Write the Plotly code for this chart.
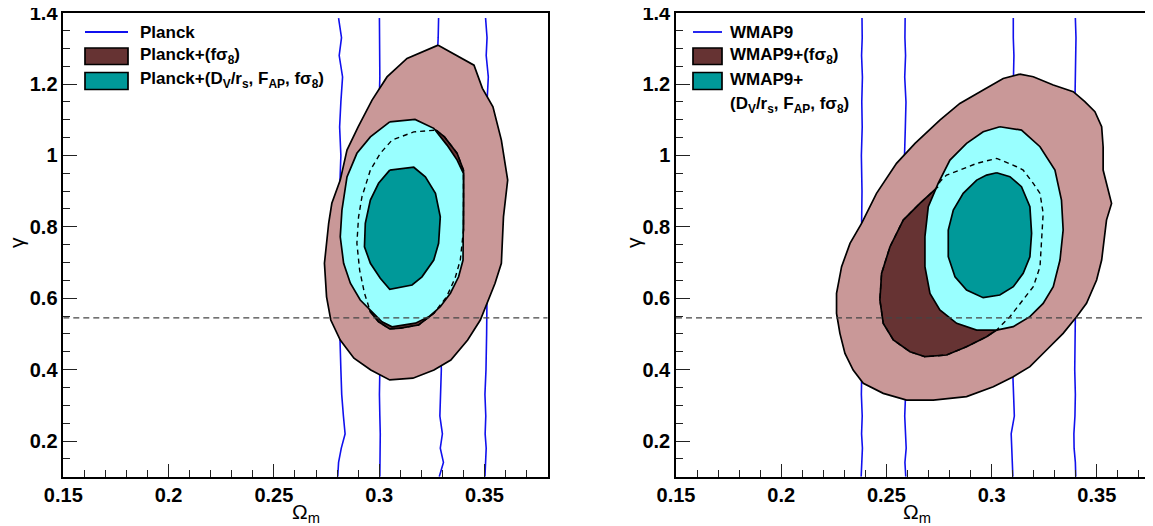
import plotly.graph_objects as go
from plotly.subplots import make_subplots

# gamma vs Omega_m contours

# ---- left panel: Planck ----
planck_fs8_2s_x = [0.328, 0.345, 0.349, 0.354, 0.358, 0.361, 0.359, 0.358, 0.355, 0.351, 0.348, 0.342,
                   0.334, 0.326, 0.316, 0.305, 0.296, 0.288, 0.2815, 0.277, 0.275, 0.274, 0.276,
                   0.2775, 0.2815, 0.2847, 0.290, 0.2966, 0.3037, 0.3132, 0.328]
planck_fs8_2s_y = [1.309, 1.253, 1.188, 1.136, 1.043, 0.931, 0.828, 0.698, 0.642, 0.586, 0.539, 0.483,
                   0.427, 0.399, 0.376, 0.371, 0.399, 0.432, 0.483, 0.539, 0.604, 0.698, 0.810,
                   0.866, 0.931, 1.015, 1.080, 1.155, 1.220, 1.272, 1.309]

planck_fs8_1s_x = [0.327, 0.331, 0.337, 0.340, 0.340, 0.340, 0.3385, 0.336, 0.332, 0.326, 0.3187, 0.310,
                   0.305, 0.2997, 0.2958, 0.293, 0.2907, 0.2894, 0.2902, 0.2918, 0.2958, 0.3005,
                   0.3061, 0.3164, 0.327]
planck_fs8_1s_y = [1.071, 1.052, 1.006, 0.959, 0.884, 0.791, 0.707, 0.656, 0.604, 0.558, 0.525, 0.516,
                   0.514, 0.534, 0.562, 0.614, 0.679, 0.754, 0.828, 0.884, 0.959, 1.006,
                   1.043, 1.066, 1.071]

planck_all_2s_x = [0.305, 0.317, 0.3259, 0.3322, 0.337, 0.340, 0.340, 0.340, 0.3398, 0.3377, 0.3338,
                   0.329, 0.3235, 0.3172, 0.3061, 0.3013, 0.2966, 0.291, 0.2863, 0.2831, 0.2815,
                   0.2823, 0.2847, 0.2894, 0.2958, 0.305]
planck_all_2s_y = [1.094, 1.101, 1.076, 1.029, 0.987, 0.950, 0.884, 0.791, 0.707, 0.660, 0.614,
                   0.576, 0.548, 0.530, 0.520, 0.534, 0.562, 0.595, 0.642, 0.698, 0.772,
                   0.847, 0.940, 1.006, 1.052, 1.094]

planck_all_1s_x = [0.305, 0.3164, 0.3219, 0.3267, 0.329, 0.3282, 0.3259, 0.3203, 0.3156, 0.305,
                   0.3005, 0.2958, 0.293, 0.2934, 0.2958, 0.2997, 0.305]
planck_all_1s_y = [0.959, 0.967, 0.940, 0.894, 0.828, 0.754, 0.707, 0.660, 0.637, 0.625,
                   0.656, 0.698, 0.744, 0.810, 0.875, 0.922, 0.959]

# CMB-only bands (vertical lines), sampled at these gamma values
cmb_y = [0.10, 0.14, 0.18, 0.22, 0.27, 0.33, 0.40, 0.50, 0.60, 0.70, 0.80, 0.90, 1.00, 1.08,
         1.15, 1.22, 1.28, 1.33, 1.385]
planck_lines_x = [
    [0.2803, 0.2807, 0.2820, 0.2838, 0.2830, 0.2822, 0.2818, 0.2812, 0.2808, 0.2806, 0.2808, 0.2812,
     0.2818, 0.2812, 0.2818, 0.2826, 0.2810, 0.2821, 0.2807],
    [0.3003, 0.3004, 0.3002, 0.3005, 0.3003, 0.3001, 0.3003, 0.3004, 0.3002, 0.3003, 0.3001, 0.3003,
     0.3005, 0.3002, 0.3000, 0.3003, 0.3001, 0.3000, 0.3001],
    [0.3285, 0.3305, 0.3290, 0.3300, 0.3288, 0.3292, 0.3295, 0.3290, 0.3292, 0.3289, 0.3291, 0.3288,
     0.3285, 0.3282, 0.3280, 0.3278, 0.3276, 0.3280, 0.3282],
    [0.3502, 0.3505, 0.3508, 0.3503, 0.3506, 0.3502, 0.3507, 0.3510, 0.3512, 0.3514, 0.3515, 0.3513,
     0.3511, 0.3508, 0.3512, 0.3518, 0.3508, 0.3512, 0.3505],
]

# ---- right panel: WMAP9 ----
wmap_fs8_2s_x = [0.3134, 0.3198, 0.3293, 0.3388, 0.3443, 0.3491, 0.3523, 0.353, 0.353, 0.357, 0.3546,
                 0.353, 0.3523, 0.3499, 0.3451, 0.3404, 0.334, 0.3261, 0.3182, 0.3103, 0.3008,
                 0.2881, 0.2723, 0.2596, 0.2485, 0.239, 0.2342, 0.2303, 0.2279, 0.2263, 0.2263,
                 0.2287, 0.2327, 0.2382, 0.2453, 0.2548, 0.2636, 0.2754, 0.2849, 0.296, 0.3055, 0.3134]
wmap_fs8_2s_y = [1.228, 1.2205, 1.1972, 1.1785, 1.1505, 1.1225, 1.0805, 1.0244, 0.959, 0.8657, 0.819,
                 0.7443, 0.707, 0.651, 0.5856, 0.5483, 0.5016, 0.455, 0.4082, 0.3802, 0.3522,
                 0.3242, 0.3148, 0.3148, 0.3335, 0.3615, 0.3989, 0.4455, 0.5016, 0.5576, 0.6136,
                 0.6883, 0.7537, 0.8097, 0.8937, 0.9778, 1.0338, 1.0991, 1.1458, 1.1832, 1.2158, 1.228]

wmap_fs8_1s_x = [0.2746, 0.2659, 0.258, 0.2517, 0.2477, 0.2469, 0.2485, 0.2533, 0.2612, 0.2683, 0.2786,
                 0.2881, 0.2976, 0.3024, 0.3087, 0.315, 0.3198, 0.323, 0.3237, 0.3245, 0.323,
                 0.3198, 0.315, 0.3119, 0.3024, 0.2929, 0.2849, 0.2786, 0.2754, 0.2746]
wmap_fs8_1s_y = [0.9124, 0.8657, 0.819, 0.7443, 0.6696, 0.5949, 0.5296, 0.4829, 0.4502, 0.4362, 0.4409,
                 0.4642, 0.4922, 0.5109, 0.5483, 0.5949, 0.6323, 0.6883, 0.763, 0.8377, 0.8937,
                 0.9217, 0.959, 0.9684, 0.9918, 0.9778, 0.959, 0.945, 0.9264, 0.9124]

wmap_all_2s_x = [0.3039, 0.3142, 0.323, 0.3301, 0.3332, 0.334, 0.3325, 0.3293, 0.3245, 0.3182, 0.3103,
                 0.3024, 0.2929, 0.2834, 0.2754, 0.2707, 0.2683, 0.2683, 0.2699, 0.2746, 0.2802,
                 0.2881, 0.296, 0.3039]
wmap_all_2s_y = [1.0805, 1.0711, 1.0244, 0.959, 0.875, 0.791, 0.707, 0.6323, 0.5856, 0.5483, 0.5203,
                 0.5109, 0.5109, 0.5296, 0.5669, 0.6136, 0.6883, 0.7723, 0.8564, 0.9217, 0.9871,
                 1.0338, 1.0665, 1.0805]

wmap_all_1s_x = [0.3024, 0.3087, 0.3142, 0.3182, 0.319, 0.3182, 0.315, 0.3103, 0.3039, 0.296, 0.2881,
                 0.2826, 0.2794, 0.2794, 0.2818, 0.2865, 0.2929, 0.2976, 0.3024]
wmap_all_1s_y = [0.9516, 0.9404, 0.9124, 0.8564, 0.7817, 0.7163, 0.6696, 0.6323, 0.609, 0.6015, 0.6229,
                 0.6603, 0.7163, 0.791, 0.847, 0.8937, 0.931, 0.945, 0.9516]

wmap_lines_x = [
    [0.2380, 0.2383, 0.2386, 0.2382, 0.2385, 0.2381, 0.2384, 0.2386, 0.2383, 0.2385, 0.2382, 0.2384,
     0.2381, 0.2385, 0.2383, 0.2386, 0.2382, 0.2385, 0.2384],
    [0.2592, 0.2588, 0.2594, 0.2590, 0.2587, 0.2591, 0.2589, 0.2593, 0.2590, 0.2588, 0.2592, 0.2589,
     0.2586, 0.2590, 0.2593, 0.2587, 0.2591, 0.2588, 0.2589],
    [0.3101, 0.3099, 0.3094, 0.3093, 0.3108, 0.3104, 0.3100, 0.3102, 0.3099, 0.3101, 0.3103, 0.3100,
     0.3102, 0.3099, 0.3101, 0.3103, 0.3106, 0.3103, 0.3103],
    [0.3400, 0.3398, 0.3392, 0.3391, 0.3396, 0.3398, 0.3395, 0.3397, 0.3399, 0.3396, 0.3398, 0.3395,
     0.3397, 0.3399, 0.3396, 0.3398, 0.3400, 0.3401, 0.3398],
]

gamma_gr = 0.545   # GR value, dashed line

ROSY = "#c99898"
BROWN = "#663333"
CYAN = "#99ffff"
TEAL = "#009999"
BLUE = "#1010ee"

# the page puts the figure 8px in from the top-left corner, so the figure is made that much smaller
OFF = 8
W, H = 1153 - OFF, 526 - OFF


def px(x):
    return (x - OFF) / W


def py(y):
    return 1 - (y - OFF) / H


fig = make_subplots(rows=1, cols=2)


def add_panel(col, lines_x, s2x, s2y, s1x, s1y, a2x, a2y, a1x, a1y, x_end):
    for lx in lines_x:
        fig.add_trace(go.Scatter(x=lx, y=cmb_y, mode="lines", line=dict(color=BLUE, width=1.6),
                                 hoverinfo="skip", showlegend=False), row=1, col=col)
    for xs, ys, c in [(s2x, s2y, ROSY), (s1x, s1y, BROWN), (a2x, a2y, CYAN), (a1x, a1y, TEAL)]:
        fig.add_trace(go.Scatter(x=xs, y=ys, mode="lines", fill="toself", fillcolor=c,
                                 line=dict(color="black", width=1.7),
                                 hoverinfo="skip", showlegend=False), row=1, col=col)
    # 1 sigma of +fs8 seen through the combined contours
    fig.add_trace(go.Scatter(x=s1x, y=s1y, mode="lines", line=dict(color="black", width=1.4, dash="5px,4px"),
                             hoverinfo="skip", showlegend=False), row=1, col=col)
    fig.add_trace(go.Scatter(x=[0.15, x_end], y=[gamma_gr, gamma_gr], mode="lines",
                             line=dict(color="#444444", width=1.2, dash="6px,4px"),
                             hoverinfo="skip", showlegend=False), row=1, col=col)


add_panel(1, planck_lines_x, planck_fs8_2s_x, planck_fs8_2s_y, planck_fs8_1s_x, planck_fs8_1s_y,
          planck_all_2s_x, planck_all_2s_y, planck_all_1s_x, planck_all_1s_y, 0.38)
add_panel(2, wmap_lines_x, wmap_fs8_2s_x, wmap_fs8_2s_y, wmap_fs8_1s_x, wmap_fs8_1s_y,
          wmap_all_2s_x, wmap_all_2s_y, wmap_all_1s_x, wmap_all_1s_y, 0.3767)

tickfont = dict(family="Liberation Sans", size=20, color="black", weight="bold")
ydom = [py(476.7), py(12.6)]
for col, dom, xr, ymirror in [(1, [px(63.3), px(547.7)], [0.15, 0.38], True),
                              (2, [px(676), 1.0], [0.15, 0.3767], False)]:
    fig.update_xaxes(domain=dom, range=xr, showline=True, linecolor="black", linewidth=1.5, mirror=True,
                     ticks="inside", ticklen=13, tickwidth=1.3, tickcolor="#222222",
                     tick0=0.15, dtick=0.05, automargin=False, ticklabeloverflow="allow",
                     minor=dict(dtick=0.01, ticks="inside", ticklen=7, tickwidth=1.2, tickcolor="#222222"),
                     showgrid=False, zeroline=False, tickfont=tickfont, row=1, col=col)
    fig.update_yaxes(domain=ydom, range=[0.1, 1.4002], showline=True, linecolor="black", linewidth=1.5,
                     mirror=ymirror, ticks="inside", ticklen=14, tickwidth=1.3, tickcolor="#222222",
                     tick0=0, dtick=0.2, automargin=False, ticklabeloverflow="allow",
                     minor=dict(dtick=0.05, ticks="inside", ticklen=7, tickwidth=1.2, tickcolor="#222222"),
                     showgrid=False, zeroline=False, tickfont=tickfont, row=1, col=col)

# axis titles
title_font = dict(family="Liberation Sans", size=21, color="black")
annotations = []
for xg, xo in [(16, 306), (633, 917)]:
    annotations.append(dict(x=px(xg), y=py(243), xref="paper", yref="paper", text="γ", showarrow=False,
                            textangle=-90, font=title_font, xanchor="center", yanchor="middle"))
    annotations.append(dict(x=px(xo), y=py(513), xref="paper", yref="paper", text="Ω<sub>m</sub>",
                            showarrow=False, font=title_font, xanchor="center", yanchor="middle"))

# legends drawn by hand, ROOT style
leg_font = dict(family="Liberation Sans", size=17, color="black", weight="bold")
shapes = []
legends = [
    (85, 128, 138, [(32, "Planck"), (56, "Planck+(fσ<sub>8</sub>)"),
                    (80, "Planck+(D<sub>V</sub>/r<sub>s</sub>, F<sub>AP</sub>, fσ<sub>8</sub>)")]),
    (693, 722, 728, [(32, "WMAP9"), (56, "WMAP9+(fσ<sub>8</sub>)"), (80, "WMAP9+"),
                     (105, "(D<sub>V</sub>/r<sub>s</sub>, F<sub>AP</sub>, fσ<sub>8</sub>)")]),
]
for x0, x1, xt, rows in legends:
    shapes.append(dict(type="line", xref="paper", yref="paper", x0=px(x0), x1=px(x1),
                       y0=py(32), y1=py(32), line=dict(color=BLUE, width=1.8)))
    for (ya, yb), c in [((48, 64.5), BROWN), ((72.5, 89.5), TEAL)]:
        shapes.append(dict(type="rect", xref="paper", yref="paper", x0=px(x0), x1=px(x1),
                           y0=py(yb), y1=py(ya), fillcolor=c, line=dict(color="black", width=1.7)))
    for yt, txt in rows:
        annotations.append(dict(x=px(xt), y=py(yt), xref="paper", yref="paper", text=txt, showarrow=False,
                                font=leg_font, xanchor="left", yanchor="middle"))

fig.update_layout(width=W, height=H, margin=dict(l=0, r=0, t=0, b=0, autoexpand=False),
                  plot_bgcolor="white", paper_bgcolor="white", showlegend=False,
                  annotations=annotations, shapes=shapes)

fig.write_html("out.html")
